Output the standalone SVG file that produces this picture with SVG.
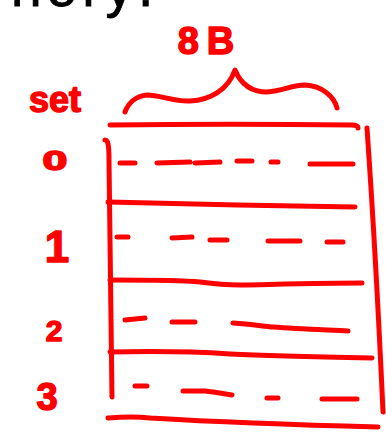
<svg xmlns="http://www.w3.org/2000/svg" width="386" height="432" viewBox="0 0 386 432">
<style>
.ink{fill:none;stroke:#ff0000;stroke-width:5;stroke-linecap:round;stroke-linejoin:round}
.dash{fill:none;stroke:#ff0000;stroke-width:5;stroke-linecap:round}
.lbl{fill:#ff0000;stroke:#ff0000;stroke-width:1.5;stroke-linejoin:round;font-family:"Liberation Sans",Arial,sans-serif;font-weight:bold;text-anchor:middle}
.hdr{fill:#000;stroke:#000;stroke-width:0.8;font-family:"Liberation Sans",Arial,sans-serif;font-size:55px;letter-spacing:5px}
</style>
<rect width="386" height="432" fill="#fff"/>
<text class="hdr" x="11" y="6">nory:</text>
<g id="size-label">
<text class="lbl" x="210" y="54" font-size="38" letter-spacing="8">8B</text>
<path class="ink" d="M125,112 C128,104 135,96 147,95 C160,95 175,102 190,101 C210,100 228,90 235,70 C240,82 250,92 267,92 C283,91 292,85 305,85 C322,86 334,96 337,108"/>
</g>
<g id="set-labels">
<text class="lbl" x="55" y="112" font-size="36">set</text>
<text class="lbl" x="55" y="170" font-size="28" transform="translate(55,161) scale(1.6,1) translate(-55,-161)">0</text>
<text class="lbl" x="57" y="262" font-size="44">1</text>
<text class="lbl" x="54" y="341" font-size="30">2</text>
<text class="lbl" x="47" y="410" font-size="38">3</text>
</g>
<g id="cache-table">
<path class="ink" d="M110,125 C180,124 280,124 352,125 C356,125 358,126 358,128"/>
<path class="ink" d="M105,140 C108,140 109,145 109,160 L112,397"/>
<path class="ink" d="M367,128 C372,200 378,300 383,412"/>
<path class="ink" d="M108,202 C180,204 280,206 355,207"/>
<path class="ink" d="M110,280 C150,280 190,281 200,282 C215,284 225,285 240,285 C290,284 330,283 362,283"/>
<path class="ink" d="M110,352 C160,351 200,352 230,354 C270,356 320,357 372,358"/>
<path class="ink" d="M108,418 C120,417 133,416 150,418 C200,421 260,424 378,427"/>
</g>
<g id="entries">
<path class="dash" d="M120,163 L135,163 M157,163 L190,162 M195,163 L220,162 M237,161 L252,161 M271,162 L278,162 M310,164 L353,164"/>
<path class="dash" d="M117,237 L128,237 M172,238 L192,237 M210,240 L227,240 M268,241 L300,241 M327,242 L343,242"/>
<path class="dash" d="M125,320 L145,318 M172,322 L195,322 M233,323 C250,324 262,326 273,327 C300,329 330,330 348,331"/>
<path class="dash" d="M135,386 L147,386 M183,391 L205,391 C215,392 225,394 232,395 M267,398 L278,398 M322,399 L357,399"/>
</g>
</svg>
